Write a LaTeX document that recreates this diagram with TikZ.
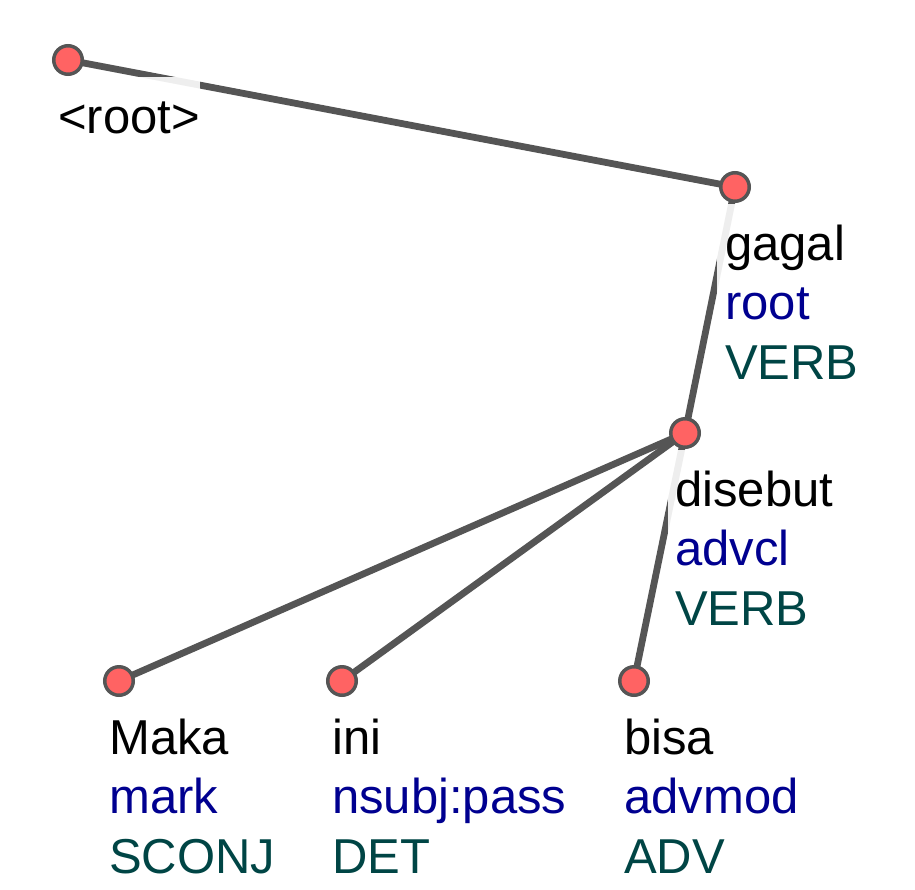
\documentclass[tikz,border=0pt]{standalone}
\usepackage{fontspec}
\setmainfont{Liberation Sans}
\usetikzlibrary{fit}
\definecolor{edgegray}{HTML}{555555}
\definecolor{nodefill}{HTML}{FF6363}
\definecolor{relblue}{HTML}{000090}
\definecolor{posteal}{HTML}{004545}
\pgfdeclarelayer{edgelayer}
\pgfdeclarelayer{boxlayer}
\pgfsetlayers{edgelayer,boxlayer,main}
\begin{document}
\begin{tikzpicture}[x=1pt,y=-1pt,
  tok/.style={circle, draw=edgegray, line width=3.5pt, fill=nodefill, minimum size=28.5pt, inner sep=0pt},
  lbl/.style={anchor=base west, inner sep=0pt, font=\fontsize{49pt}{59pt}\selectfont},
  wordlbl/.style={lbl, text=black},
  rellbl/.style={lbl, text=relblue},
  uposlbl/.style={lbl, text=posteal},
  bgbox/.style={inner sep=0pt, fill=white, fill opacity=0.9, draw=none},
  depedge/.style={draw=edgegray, line width=6.8pt}]
\useasboundingbox (0,0) rectangle (915,889);

% tokens
\node[tok] (root) at (68,60) {};
\node[tok] (gagal) at (735,187) {};
\node[tok] (disebut) at (685,433) {};
\node[tok] (maka) at (119,681) {};
\node[tok] (ini) at (342,681) {};
\node[tok] (bisa) at (634,681) {};

% labels
\node[wordlbl] (root-w) at (58,133) {<root>};
\coordinate (root-c) at (51,77);

\node[wordlbl] (gagal-w) at (725,260) {gagal};
\node[rellbl] (gagal-r) at (725,319) {root};
\node[uposlbl] (gagal-p) at (725,379) {VERB};
\coordinate (gagal-c) at (717,204);

\node[wordlbl] (disebut-w) at (675,506) {disebut};
\node[rellbl] (disebut-r) at (675,565) {advcl};
\node[uposlbl] (disebut-p) at (675,625) {VERB};
\coordinate (disebut-c) at (668,450);

\node[wordlbl] (maka-w) at (109,754) {Maka};
\node[rellbl] (maka-r) at (109,813) {mark};
\node[uposlbl] (maka-p) at (109,873) {SCONJ};
\coordinate (maka-c) at (102,698);

\node[wordlbl] (ini-w) at (332,754) {ini};
\node[rellbl] (ini-r) at (332,813) {nsubj:pass};
\node[uposlbl] (ini-p) at (332,873) {DET};
\coordinate (ini-c) at (325,698);

\node[wordlbl] (bisa-w) at (624,754) {bisa};
\node[rellbl] (bisa-r) at (624,813) {advmod};
\node[uposlbl] (bisa-p) at (624,873) {ADV};
\coordinate (bisa-c) at (617,698);

\begin{pgfonlayer}{boxlayer}
\node[bgbox, fit=(root-c)(root-w)] (root-bg) {};
\node[bgbox, fit=(gagal-c)(gagal-w)(gagal-r)(gagal-p)] (gagal-bg) {};
\node[bgbox, fit=(disebut-c)(disebut-w)(disebut-r)(disebut-p)] (disebut-bg) {};
\node[bgbox, fit=(maka-c)(maka-w)(maka-r)(maka-p)] (maka-bg) {};
\node[bgbox, fit=(ini-c)(ini-w)(ini-r)(ini-p)] (ini-bg) {};
\node[bgbox, fit=(bisa-c)(bisa-w)(bisa-r)(bisa-p)] (bisa-bg) {};
\end{pgfonlayer}

\begin{pgfonlayer}{edgelayer}
\draw[depedge] (root.center) -- (gagal.center);
\draw[depedge] (gagal.center) -- (disebut.center);
\draw[depedge] (disebut.center) -- (maka.center);
\draw[depedge] (disebut.center) -- (ini.center);
\draw[depedge] (disebut.center) -- (bisa.center);
\end{pgfonlayer}
\end{tikzpicture}
\end{document}
